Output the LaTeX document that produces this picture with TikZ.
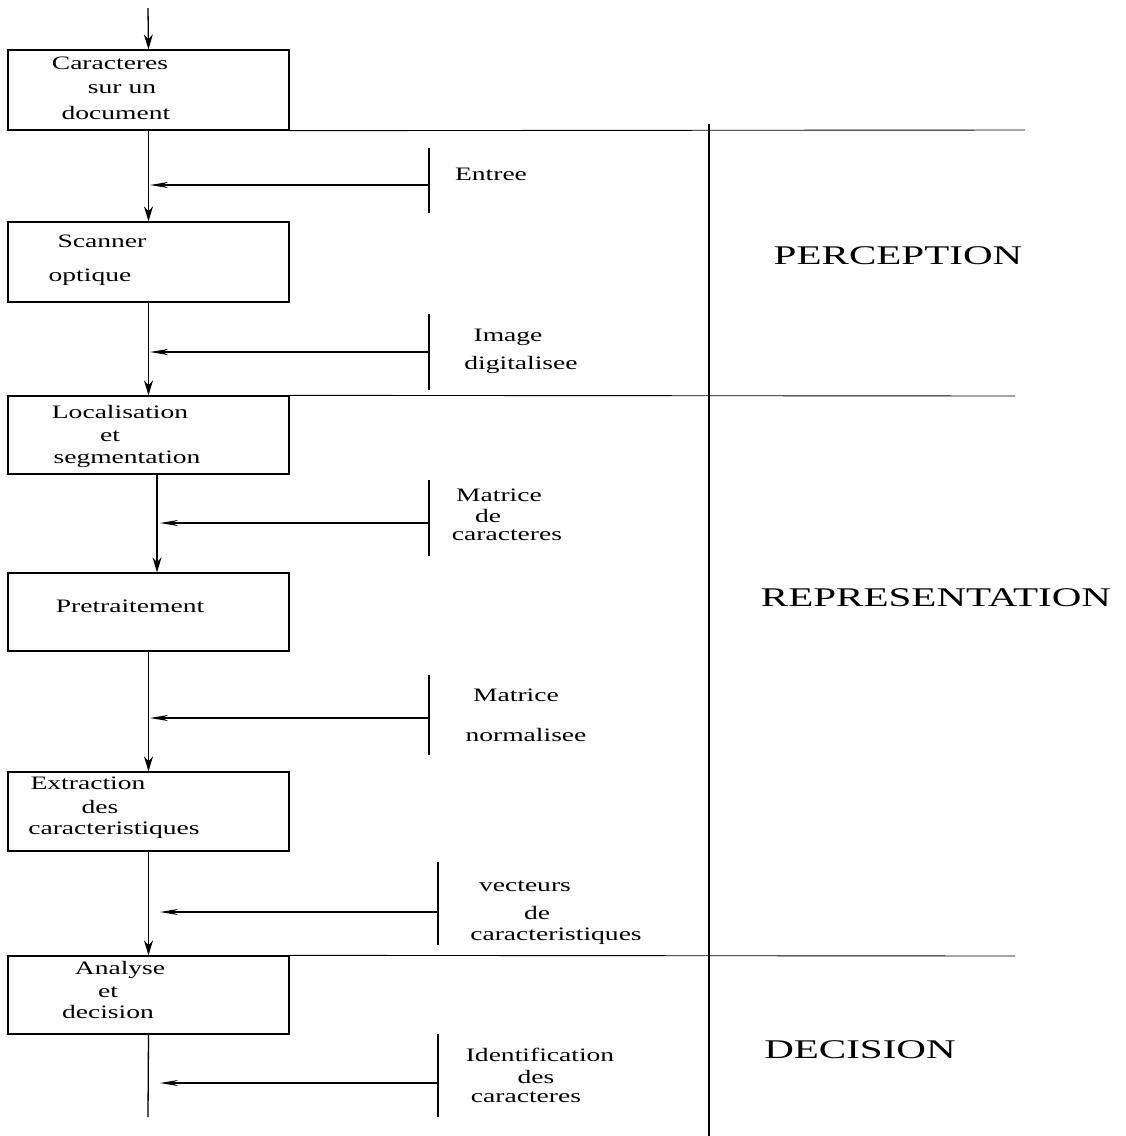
\documentclass[tikz,border=0pt]{standalone}
\usepackage{fontspec}
\usepackage{graphicx}
\setmainfont{Liberation Serif}
\usetikzlibrary{arrows.meta}
\newcommand\wtxt[1]{\scalebox{1.45}[1]{#1}}
\newcommand\wbig[1]{\scalebox{1.52}[1]{#1}}
\begin{document}
\begin{tikzpicture}[x=1pt,y=-1pt,
  line width=1.3pt,
  box/.style={draw, rectangle, minimum width=281pt, minimum height=80pt, inner sep=0pt},
  lbl/.style={anchor=base, inner sep=0pt, font=\fontsize{19}{22}\selectfont},
  big/.style={anchor=base, inner sep=0pt, font=\fontsize{27}{30}\selectfont},
  flow/.style={-{Stealth[length=15pt,width=9pt]}},
  feed/.style={-{Stealth[length=18pt,width=6pt]}},
  sep/.style={line width=0.9pt}]
\useasboundingbox (0,0) rectangle (1126,1136);

% boxes
\node[box] (b1) at (148.5,90) {};
\node[box] (b2) at (148.5,262) {};
\node[box, minimum height=78pt] (b3) at (148.5,435) {};
\node[box, minimum height=78pt] (b4) at (148.5,612) {};
\node[box, minimum height=79pt] (b5) at (148.5,811.5) {};
\node[box, minimum height=78pt] (b6) at (148.5,995) {};

% box texts
\node[lbl] (t1a) at (110,69) {\wtxt{Caracteres}};
\node[lbl] (t1b) at (122,93) {\wtxt{sur un}};
\node[lbl] (t1c) at (116,119) {\wtxt{document}};
\node[lbl] (t2a) at (102,247) {\wtxt{Scanner}};
\node[lbl] (t2b) at (90,281) {\wtxt{optique}};
\node[lbl] (t3a) at (120,418) {\wtxt{Localisation}};
\node[lbl] (t3b) at (110,441) {\wtxt{et}};
\node[lbl] (t3c) at (127,463) {\wtxt{segmentation}};
\node[lbl] (t4a) at (130,612) {\wtxt{Pretraitement}};
\node[lbl] (t5a) at (88,789) {\wtxt{Extraction}};
\node[lbl] (t5b) at (100,813) {\wtxt{des}};
\node[lbl] (t5c) at (114,834) {\wtxt{caracteristiques}};
\node[lbl] (t6a) at (120,974) {\wtxt{Analyse}};
\node[lbl] (t6b) at (108,997) {\wtxt{et}};
\node[lbl] (t6c) at (108,1018) {\wtxt{decision}};

% main flow
\coordinate (start) at (148,8);
\coordinate (end) at (148,1117);
\draw[flow] (start) -- (b1.north);
\draw[flow] (b1.south) -- (b2.north);
\draw[flow] (b2.south) -- (b3.north);
\draw[flow] ([xshift=8.5pt]b3.south) -- ([xshift=8.5pt]b4.north);
\draw[flow] (b4.south) -- (b5.north);
\draw[flow] (b5.south) -- (b6.north);
\draw (b6.south) -- (end);

% feed bars and arrows
\coordinate (f1t) at (429,148); \coordinate (f1b) at (429,213);
\coordinate (f1s) at (429,185); \coordinate (f1e) at (150,185);
\draw (f1t) -- (f1b); \draw[feed] (f1s) -- (f1e);

\coordinate (f2t) at (429,314); \coordinate (f2b) at (429,390);
\coordinate (f2s) at (429,352); \coordinate (f2e) at (150,352);
\draw (f2t) -- (f2b); \draw[feed] (f2s) -- (f2e);

\coordinate (f3t) at (429,480); \coordinate (f3b) at (429,556);
\coordinate (f3s) at (429,523); \coordinate (f3e) at (160,523);
\draw (f3t) -- (f3b); \draw[feed] (f3s) -- (f3e);

\coordinate (f4t) at (429,675); \coordinate (f4b) at (429,755);
\coordinate (f4s) at (429,718); \coordinate (f4e) at (150,718);
\draw (f4t) -- (f4b); \draw[feed] (f4s) -- (f4e);

\coordinate (f5t) at (438,862); \coordinate (f5b) at (438,945);
\coordinate (f5s) at (438,912); \coordinate (f5e) at (160,912);
\draw (f5t) -- (f5b); \draw[feed] (f5s) -- (f5e);

\coordinate (f6t) at (438,1034); \coordinate (f6b) at (438,1117);
\coordinate (f6s) at (438,1083); \coordinate (f6e) at (160,1083);
\draw (f6t) -- (f6b); \draw[feed] (f6s) -- (f6e);

% feed labels
\node[lbl] (l1) at (491,180) {\wtxt{Entree}};
\node[lbl] (l2a) at (508,341) {\wtxt{Image}};
\node[lbl] (l2b) at (521,369) {\wtxt{digitalisee}};
\node[lbl] (l3a) at (499,501) {\wtxt{Matrice}};
\node[lbl] (l3b) at (488,522) {\wtxt{de}};
\node[lbl] (l3c) at (507,540) {\wtxt{caracteres}};
\node[lbl] (l4a) at (516,701) {\wtxt{Matrice}};
\node[lbl] (l4b) at (526,741) {\wtxt{normalisee}};
\node[lbl] (l5a) at (525,891) {\wtxt{vecteurs}};
\node[lbl] (l5b) at (537,919) {\wtxt{de}};
\node[lbl] (l5c) at (556,940) {\wtxt{caracteristiques}};
\node[lbl] (l6a) at (540,1061) {\wtxt{Identification}};
\node[lbl] (l6b) at (536,1083) {\wtxt{des}};
\node[lbl] (l6c) at (526,1102) {\wtxt{caracteres}};

% separators
\coordinate (s1) at (1025,130);
\coordinate (s2) at (1015,396);
\coordinate (s3) at (1015,956);
\draw[sep] (b1.south east) -- (s1);
\draw[sep] (b3.north east) -- (s2);
\draw[sep] (b6.north east) -- (s3);
\coordinate (vt) at (709,124);
\coordinate (vb) at (709,1136);
\draw (vt) -- (vb);

% phase labels
\node[big] (p1) at (898,264) {\wbig{PERCEPTION}};
\node[big] (p2) at (936,606) {\wbig{REPRESENTATION}};
\node[big] (p3) at (860,1058) {\wbig{DECISION}};
\end{tikzpicture}
\end{document}
